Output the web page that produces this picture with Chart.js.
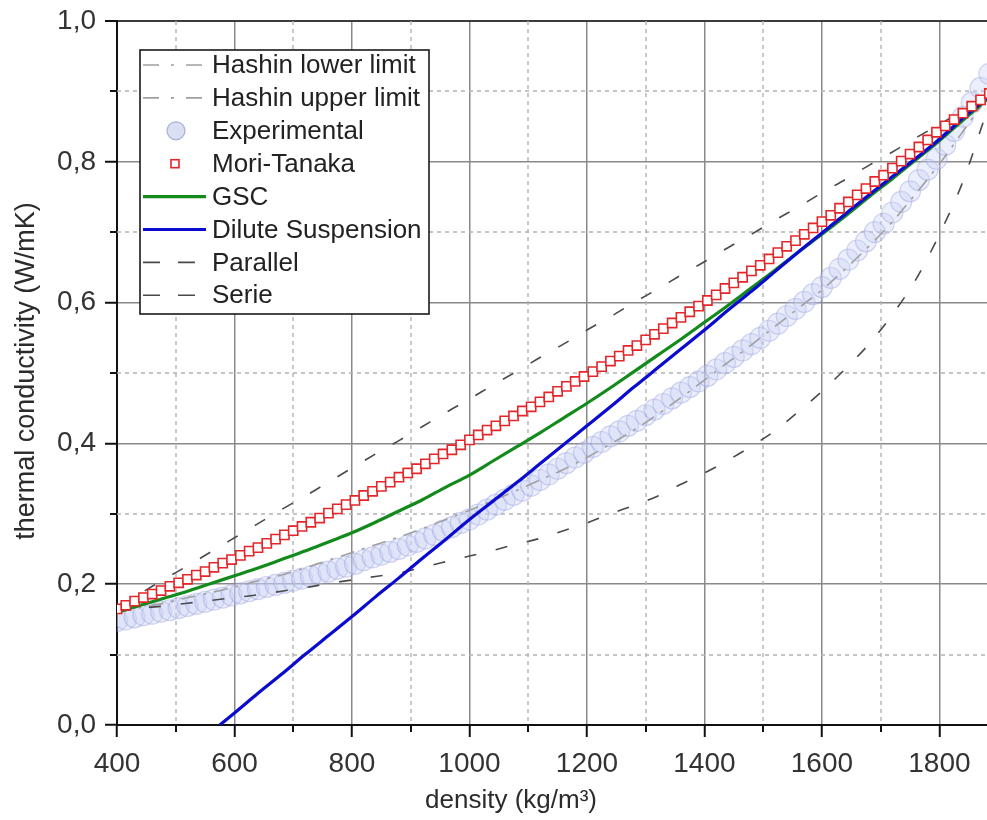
<!DOCTYPE html>
<html>
<head>
<meta charset="utf-8">
<title>Thermal conductivity vs density</title>
<script src="https://cdn.jsdelivr.net/npm/chart.js@4.4.1/dist/chart.umd.min.js"></script>
<style>
    html, body { margin: 0; padding: 0; background: #fff; }
    #wrap { width: 987px; height: 820px; }
</style>
</head>
<body>
<div id="wrap"><canvas id="chart" width="987" height="820"></canvas></div>
<script>
// Density grid used by the marker series (kg/m3)
const densityFine = [
    400, 415, 430, 445, 460, 475, 490, 505, 520, 535,
    550, 565, 580, 595, 610, 625, 640, 655, 670, 685,
    700, 715, 730, 745, 760, 775, 790, 805, 820, 835,
    850, 865, 880, 895, 910, 925, 940, 955, 970, 985,
    1000, 1015, 1030, 1045, 1060, 1075, 1090, 1105, 1120, 1135,
    1150, 1165, 1180, 1195, 1210, 1225, 1240, 1255, 1270, 1285,
    1300, 1315, 1330, 1345, 1360, 1375, 1390, 1405, 1420, 1435,
    1450, 1465, 1480, 1495, 1510, 1525, 1540, 1555, 1570, 1585,
    1600, 1615, 1630, 1645, 1660, 1675, 1690, 1705, 1720, 1735,
    1750, 1765, 1780, 1795, 1810, 1825, 1840, 1855, 1870, 1885
];

const experimental = [
    0.148, 0.150, 0.153, 0.156, 0.158, 0.161, 0.163, 0.166, 0.169, 0.172,
    0.175, 0.178, 0.181, 0.184, 0.187, 0.190, 0.193, 0.196, 0.199, 0.202,
    0.205, 0.208, 0.211, 0.215, 0.218, 0.222, 0.225, 0.229, 0.234, 0.238,
    0.242, 0.246, 0.250, 0.255, 0.260, 0.265, 0.270, 0.276, 0.281, 0.287,
    0.292, 0.299, 0.306, 0.313, 0.320, 0.327, 0.333, 0.340, 0.348, 0.356,
    0.364, 0.372, 0.380, 0.387, 0.395, 0.402, 0.410, 0.417, 0.425, 0.432,
    0.440, 0.448, 0.456, 0.464, 0.472, 0.480, 0.488, 0.496, 0.505, 0.514,
    0.523, 0.532, 0.541, 0.550, 0.560, 0.570, 0.581, 0.591, 0.601, 0.612,
    0.622, 0.635, 0.648, 0.661, 0.674, 0.687, 0.700, 0.712, 0.728, 0.743,
    0.758, 0.774, 0.789, 0.804, 0.824, 0.844, 0.864, 0.884, 0.905, 0.925
];

const moriTanaka = [
    0.165, 0.170, 0.176, 0.181, 0.186, 0.191, 0.197, 0.202, 0.207, 0.213,
    0.218, 0.224, 0.230, 0.235, 0.241, 0.247, 0.252, 0.258, 0.264, 0.270,
    0.276, 0.282, 0.288, 0.294, 0.301, 0.307, 0.313, 0.319, 0.326, 0.332,
    0.339, 0.345, 0.352, 0.358, 0.364, 0.371, 0.378, 0.385, 0.391, 0.398,
    0.405, 0.412, 0.419, 0.425, 0.432, 0.439, 0.446, 0.452, 0.459, 0.466,
    0.474, 0.481, 0.488, 0.495, 0.502, 0.509, 0.517, 0.524, 0.532, 0.539,
    0.547, 0.555, 0.563, 0.571, 0.579, 0.587, 0.595, 0.603, 0.611, 0.620,
    0.628, 0.636, 0.645, 0.653, 0.662, 0.671, 0.680, 0.688, 0.697, 0.706,
    0.715, 0.724, 0.734, 0.743, 0.753, 0.762, 0.772, 0.781, 0.791, 0.801,
    0.811, 0.821, 0.831, 0.842, 0.851, 0.860, 0.869, 0.879, 0.888, 0.897
];

// Density grid used by the model curves
const densityCoarse = [
    400, 440, 480, 520, 560, 600, 640, 680, 720, 760,
    800, 840, 880, 920, 960, 1000, 1040, 1080, 1120, 1160,
    1200, 1240, 1280, 1320, 1360, 1400, 1440, 1480, 1520, 1560,
    1600, 1640, 1680, 1720, 1760, 1800, 1840, 1880
];

const gsc = [
    0.160, 0.170, 0.180, 0.190, 0.201, 0.212, 0.223, 0.235, 0.247, 0.260,
    0.273, 0.288, 0.304, 0.320, 0.338, 0.355, 0.375, 0.395, 0.415, 0.436,
    0.457, 0.479, 0.502, 0.525, 0.548, 0.572, 0.596, 0.621, 0.646, 0.672,
    0.697, 0.723, 0.750, 0.776, 0.803, 0.830, 0.859, 0.888
];

const parallel = [
    0.168, 0.187, 0.207, 0.226, 0.246, 0.266, 0.286, 0.306, 0.325, 0.345,
    0.365, 0.385, 0.404, 0.424, 0.444, 0.463, 0.483, 0.502, 0.522, 0.541,
    0.561, 0.580, 0.600, 0.619, 0.639, 0.658, 0.678, 0.697, 0.717, 0.736,
    0.756, 0.775, 0.795, 0.814, 0.834, 0.853, 0.873, 0.892
];

const serie = [
    0.163, 0.166, 0.169, 0.173, 0.177, 0.181, 0.185, 0.190, 0.195, 0.201,
    0.206, 0.211, 0.216, 0.224, 0.232, 0.240, 0.248, 0.257, 0.265, 0.276,
    0.287, 0.300, 0.312, 0.325, 0.342, 0.358, 0.376, 0.396, 0.418, 0.445,
    0.474, 0.506, 0.541, 0.583, 0.633, 0.697, 0.772, 0.870
];

const hashinLower = [
    0.160, 0.167, 0.173, 0.181, 0.188, 0.196, 0.205, 0.213, 0.223, 0.234,
    0.245, 0.256, 0.267, 0.279, 0.292, 0.305, 0.319, 0.333, 0.348, 0.363,
    0.380, 0.399, 0.419, 0.441, 0.465, 0.490, 0.515, 0.540, 0.566, 0.592,
    0.618, 0.648, 0.680, 0.715, 0.755, 0.797, 0.843, 0.890
];

const hashinUpper = [
    0.165, 0.179, 0.193, 0.207, 0.222, 0.237, 0.252, 0.268, 0.284, 0.300,
    0.317, 0.334, 0.351, 0.369, 0.387, 0.405, 0.423, 0.441, 0.459, 0.478,
    0.497, 0.517, 0.537, 0.557, 0.578, 0.600, 0.622, 0.644, 0.667, 0.691,
    0.715, 0.740, 0.765, 0.791, 0.818, 0.845, 0.871, 0.895
];

// Dilute suspension only becomes positive above ~575 kg/m3
const densityDilute = [
    575, 600, 640, 680, 720, 760, 800, 840, 880, 920,
    960, 1000, 1040, 1080, 1120, 1160, 1200, 1240, 1280, 1320,
    1360, 1400, 1440, 1480, 1520, 1560, 1600, 1640, 1680, 1720,
    1760, 1800, 1840, 1880
];

const dilute = [
    0.000, 0.017, 0.045, 0.072, 0.100, 0.127, 0.154, 0.182, 0.209, 0.237,
    0.264, 0.292, 0.318, 0.344, 0.371, 0.398, 0.425, 0.452, 0.480, 0.507,
    0.534, 0.561, 0.589, 0.616, 0.644, 0.672, 0.699, 0.726, 0.753, 0.779,
    0.805, 0.832, 0.862, 0.890
];

const xTicks = [400, 600, 800, 1000, 1200, 1400, 1600, 1800];
const xMinorTicks = [500, 700, 900, 1100, 1300, 1500, 1700];
const yTicks = [0, 0.2, 0.4, 0.6, 0.8, 1.0];
const yTickLabels = ['0,0', '0,2', '0,4', '0,6', '0,8', '1,0'];
const yMinorTicks = [0.1, 0.3, 0.5, 0.7, 0.9];

const FONT = '"Liberation Sans", Arial, Helvetica, sans-serif';

const toPoints = (xs, ys) => xs.map((x, i) => ({ x, y: ys[i] }));

// Dotted minor grid plus the short outward minor ticks
const minorGridPlugin = {
    id: 'minorGrid',
    beforeDatasetsDraw(chart) {
        const { ctx, chartArea: area, scales: { x, y } } = chart;
        ctx.save();
        ctx.strokeStyle = '#b3b3b3';
        ctx.lineWidth = 1.4;
        ctx.setLineDash([4, 4]);
        ctx.beginPath();
        xMinorTicks.forEach(v => {
            const px = Math.round(x.getPixelForValue(v));
            ctx.moveTo(px, area.top);
            ctx.lineTo(px, area.bottom);
        });
        yMinorTicks.forEach(v => {
            const py = Math.round(y.getPixelForValue(v));
            ctx.moveTo(area.left, py);
            ctx.lineTo(area.right, py);
        });
        ctx.stroke();

        ctx.setLineDash([]);
        ctx.strokeStyle = '#111';
        ctx.lineWidth = 2;
        ctx.beginPath();
        xMinorTicks.forEach(v => {
            const px = Math.round(x.getPixelForValue(v));
            ctx.moveTo(px, area.bottom);
            ctx.lineTo(px, area.bottom + 7);
        });
        yMinorTicks.forEach(v => {
            const py = Math.round(y.getPixelForValue(v));
            ctx.moveTo(area.left - 7, py);
            ctx.lineTo(area.left, py);
        });
        ctx.stroke();
        ctx.restore();
    }
};

// Axis titles sit a little off the chart-area centre, so they are placed by hand
const axisTitlePlugin = {
    id: 'axisTitles',
    afterDraw(chart) {
        const { ctx } = chart;
        ctx.save();
        ctx.fillStyle = '#2b2b2b';
        ctx.textAlign = 'center';
        ctx.textBaseline = 'middle';
        ctx.font = `26px ${FONT}`;
        ctx.fillText('density (kg/m³)', 511, 801);
        ctx.translate(27, 371);
        ctx.rotate(-Math.PI / 2);
        ctx.font = `27px ${FONT}`;
        ctx.fillText('thermal conductivity (W/mK)', 0, 0);
        ctx.restore();
    }
};

// Boxed legend in the upper-left corner of the plot
const legendBoxPlugin = {
    id: 'legendBox',
    afterDatasetsDraw(chart) {
        const { ctx } = chart;
        const box = { left: 140, top: 50, width: 289, height: 264 };
        const rowTop = 65;
        const rowStep = 32.9;
        const sampleLeft = 143;
        const sampleRight = 206;
        const sampleMid = 175;

        ctx.save();
        ctx.fillStyle = '#fff';
        ctx.fillRect(box.left, box.top, box.width, box.height);
        ctx.strokeStyle = '#1a1a1a';
        ctx.lineWidth = 1.6;
        ctx.strokeRect(box.left, box.top, box.width, box.height);

        chart.data.datasets.forEach((ds, i) => {
            const y = rowTop + i * rowStep;
            if (ds.showLine) {
                ctx.strokeStyle = ds.borderColor;
                ctx.lineWidth = ds.borderWidth;
                ctx.setLineDash(ds.legendDash || ds.borderDash || []);
                ctx.beginPath();
                ctx.moveTo(sampleLeft, y);
                ctx.lineTo(sampleRight, y);
                ctx.stroke();
                ctx.setLineDash([]);
            } else if (ds.pointStyle === 'rect') {
                ctx.fillStyle = ds.pointBackgroundColor;
                ctx.strokeStyle = ds.pointBorderColor;
                ctx.lineWidth = ds.pointBorderWidth;
                ctx.fillRect(sampleMid - 4, y - 4, 8, 8);
                ctx.strokeRect(sampleMid - 4, y - 4, 8, 8);
            } else {
                ctx.fillStyle = 'rgba(214, 219, 242, 0.9)';
                ctx.strokeStyle = 'rgba(160, 168, 205, 0.9)';
                ctx.lineWidth = 1.2;
                ctx.beginPath();
                ctx.arc(sampleMid + 1, y, 9, 0, Math.PI * 2);
                ctx.fill();
                ctx.stroke();
            }
            ctx.fillStyle = '#222';
            ctx.font = `26px ${FONT}`;
            ctx.textAlign = 'left';
            ctx.textBaseline = 'middle';
            ctx.fillText(ds.label, 212, y + 1);
        });
        ctx.restore();
    }
};

class ConductivityChart {
    constructor(canvasId) {
        this.canvas = document.getElementById(canvasId);
        this.chart = null;
        this.init();
    }

    init() {
        this.chart = new Chart(this.canvas.getContext('2d'), {
            type: 'scatter',
            data: { datasets: this.buildDatasets() },
            options: this.buildOptions(),
            plugins: [minorGridPlugin, legendBoxPlugin, axisTitlePlugin]
        });
    }

    buildDatasets() {
        const modelLine = (label, xs, ys, color, width, dash, order, legendDash) => ({
            label,
            data: toPoints(xs, ys),
            showLine: true,
            borderColor: color,
            borderWidth: width,
            borderDash: dash,
            legendDash,
            pointRadius: 0,
            cubicInterpolationMode: 'monotone',
            order
        });

        return [
            modelLine('Hashin lower limit', densityCoarse, hashinLower, '#a0a0a0', 1.6, [14, 8, 3, 8], 7, [16, 12, 3, 12]),
            modelLine('Hashin upper limit', densityCoarse, hashinUpper, '#a0a0a0', 1.6, [14, 8, 3, 8], 4, [16, 12, 3, 12]),
            {
                label: 'Experimental',
                data: toPoints(densityFine, experimental),
                pointStyle: 'circle',
                pointRadius: 10.5,
                pointBorderWidth: 1.2,
                pointBorderColor: 'rgba(150, 160, 222, 0.42)',
                pointBackgroundColor: 'rgba(200, 207, 243, 0.36)',
                order: 8
            },
            {
                label: 'Mori-Tanaka',
                data: toPoints(densityFine, moriTanaka),
                pointStyle: 'rect',
                pointRadius: 6.5,
                pointBorderWidth: 1.6,
                pointBorderColor: '#e3262a',
                pointBackgroundColor: '#ffffff',
                order: 1
            },
            modelLine('GSC', densityCoarse, gsc, '#138a1c', 3.2, [], 3),
            modelLine('Dilute Suspension', densityDilute, dilute, '#0b0bd0', 3.2, [], 2),
            modelLine('Parallel', densityCoarse, parallel, '#4a4a4a', 1.6, [12, 20], 5, [17, 18]),
            modelLine('Serie', densityCoarse, serie, '#4a4a4a', 1.6, [12, 20], 6, [17, 18])
        ];
    }

    buildOptions() {
        const tickFont = { family: FONT, size: 28 };
        return {
            responsive: false,
            animation: false,
            layout: {
                autoPadding: false,
                padding: { top: 21, right: 0, bottom: 0, left: 0 }
            },
            plugins: {
                legend: { display: false },
                tooltip: { enabled: false }
            },
            scales: {
                x: {
                    type: 'linear',
                    min: 400,
                    max: 1881,
                    afterBuildTicks: scale => { scale.ticks = xTicks.map(v => ({ value: v })); },
                    afterFit: scale => {
                        scale.height = 95;
                        scale.paddingLeft = 0;
                        scale.paddingRight = 0;
                    },
                    grid: { color: '#8a8a8a', lineWidth: 1.5, tickLength: 12, tickColor: '#111', tickWidth: 2 },
                    border: { color: '#111', width: 2 },
                    ticks: {
                        font: tickFont,
                        color: '#333',
                        padding: 10,
                        autoSkip: false,
                        maxRotation: 0,
                        includeBounds: false,
                        callback: value => String(value)
                    }
                },
                y: {
                    type: 'linear',
                    min: 0,
                    max: 1,
                    afterBuildTicks: scale => { scale.ticks = yTicks.map(v => ({ value: v })); },
                    afterFit: scale => {
                        scale.width = 117;
                        scale.paddingTop = 0;
                        scale.paddingBottom = 0;
                    },
                    grid: {
                        color: ctx => (ctx.tick && ctx.tick.value === 1 ? '#3c3c3c' : '#8a8a8a'),
                        lineWidth: ctx => (ctx.tick && ctx.tick.value === 1 ? 2 : 1.5),
                        tickLength: 12,
                        tickColor: '#111',
                        tickWidth: 2
                    },
                    border: { color: '#111', width: 2 },
                    ticks: {
                        font: tickFont,
                        color: '#333',
                        padding: 9,
                        autoSkip: false,
                        includeBounds: false,
                        callback: (value, index) => yTickLabels[index]
                    }
                }
            }
        };
    }
}

new ConductivityChart('chart');
</script>
</body>
</html>
